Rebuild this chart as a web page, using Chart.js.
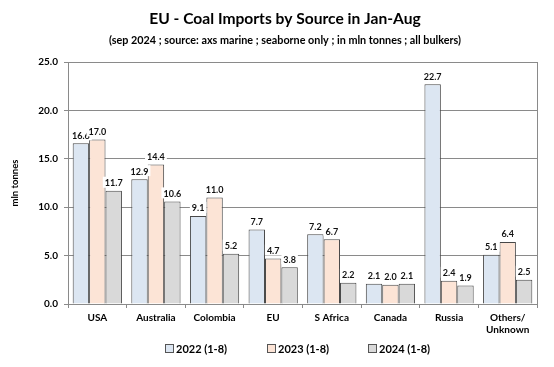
<!DOCTYPE html>
<html><head><meta charset="utf-8">
<script src="https://cdn.jsdelivr.net/npm/chart.js@4"></script>
<style>html,body{margin:0;padding:0;background:#fff}#wrap{width:554px;height:367px}</style>
</head><body><div id="wrap"><canvas id="c" width="554" height="367"></canvas></div>
<script>
const categories = ["USA","Australia","Colombia","EU","S Africa","Canada","Russia",["Others/","Unknown"]];
const series2022 = [16.6,12.9,9.1,7.7,7.2,2.1,22.7,5.1];
const series2023 = [17.0,14.4,11.0,4.7,6.7,2.0,2.4,6.4];
const series2024 = [11.7,10.6,5.2,3.8,2.2,2.1,1.9,2.5];
const seriesNames = ["2022 (1-8)","2023 (1-8)","2024 (1-8)"];
const yTicks = [0,5,10,15,20,25];
const titleText = 'EU - Coal Imports by Source in Jan-Aug';
const subtitleText = '(sep 2024 ; source: axs marine ; seaborne only ; in mln tonnes ; all bulkers)';

const FONT = "Lato, 'Open Sans', sans-serif";
const labelPlugin = {
  id:'barLabels',
  afterDatasetsDraw(chart){
    const ctx = chart.ctx;
    ctx.save();
    ctx.font = "bold 9px " + FONT;
    ctx.textAlign = 'center';
    ctx.textBaseline = 'bottom';
    chart.data.datasets.forEach((ds,i)=>{
      const meta = chart.getDatasetMeta(i);
      meta.data.forEach((bar,j)=>{
        const t = ds.data[j].toFixed(1);
        const w = ctx.measureText(t).width;
        const yb = bar.y - 3;
        ctx.fillStyle = '#fff';
        ctx.fillRect(bar.x - w/2 - 2, yb - 11, w + 4, 11);
        ctx.fillStyle = '#111';
        ctx.fillText(t, bar.x, yb);
      });
    });
    ctx.restore();
  }
};
const framePlugin = {
  id:'frame',
  afterDraw(chart){
    const a = chart.chartArea, ctx = chart.ctx;
    ctx.save();
    ctx.strokeStyle = '#8a8a8a';
    ctx.lineWidth = 1;
    ctx.beginPath();
    ctx.moveTo(Math.round(a.right)+0.5, a.top);
    ctx.lineTo(Math.round(a.right)+0.5, a.bottom);
    ctx.stroke();
    // titles
    const cx = chart.width/2 + 8;
    ctx.fillStyle = '#000';
    ctx.textAlign = 'center';
    ctx.textBaseline = 'middle';
    ctx.font = "bold 15.6px " + FONT;
    ctx.fillText(titleText, cx, 19);
    ctx.font = "bold 10.8px " + FONT;
    ctx.fillText(subtitleText, cx, 40.5);
    // legend
    const ds = chart.data.datasets;
    ctx.font = "bold 11px " + FONT;
    ctx.textAlign = 'left';
    const y = 349, step = 101.5;
    let x0 = a.left + 97;
    ds.forEach((d,i)=>{
      const x = Math.round(x0 + i*step);
      ctx.fillStyle = d.backgroundColor;
      ctx.fillRect(x+0.5, y-4.5, 8, 8);
      ctx.strokeStyle = '#555';
      ctx.strokeRect(x+0.5, y-4.5, 8, 8);
      ctx.fillStyle = '#000';
      ctx.fillText(d.label, x + 11, y);
    });
    ctx.restore();
  }
};

new Chart(document.getElementById('c'), {
  type:'bar',
  data:{
    labels:categories,
    datasets:[
      {label:seriesNames[0], data:series2022, backgroundColor:'#dce6f2', borderColor:'#474747', borderWidth:1},
      {label:seriesNames[1], data:series2023, backgroundColor:'#fce4d6', borderColor:'#474747', borderWidth:1},
      {label:seriesNames[2], data:series2024, backgroundColor:'#d9d9d9', borderColor:'#474747', borderWidth:1}
    ]
  },
  options:{
    responsive:false, animation:false,
    devicePixelRatio:1,
    layout:{padding:{left:0,right:17,top:62,bottom:31}},
    datasets:{bar:{categoryPercentage:0.84, barPercentage:1}},
    plugins:{
      title:{display:false},
      legend:{display:false},
      tooltip:{enabled:false}
    },
    scales:{
      x:{
        afterFit(s){ s.height = 32; },
        grid:{offset:true, drawOnChartArea:false, color:'#8a8a8a', tickLength:4},
        border:{color:'#8a8a8a'},
        ticks:{color:'#000', font:{family:FONT, size:10, weight:'bold'}, maxRotation:0, padding:4}
      },
      y:{
        min:0, max:25,
        afterBuildTicks(s){ s.ticks = yTicks.map(v=>({value:v})); },
        afterFit(s){ s.width = 68; },
        grid:{color:'#8a8a8a', tickLength:4},
        border:{color:'#8a8a8a'},
        ticks:{color:'#000', font:{family:FONT, size:10, weight:'bold'}, padding:6, callback:v=>Number(v).toFixed(1)},
        title:{display:true, text:'mln tonnes', color:'#000', font:{family:FONT, size:9.5, weight:'bold'}, padding:{top:9,bottom:0}}
      }
    }
  },
  plugins:[labelPlugin, framePlugin]
});
</script></body></html>
